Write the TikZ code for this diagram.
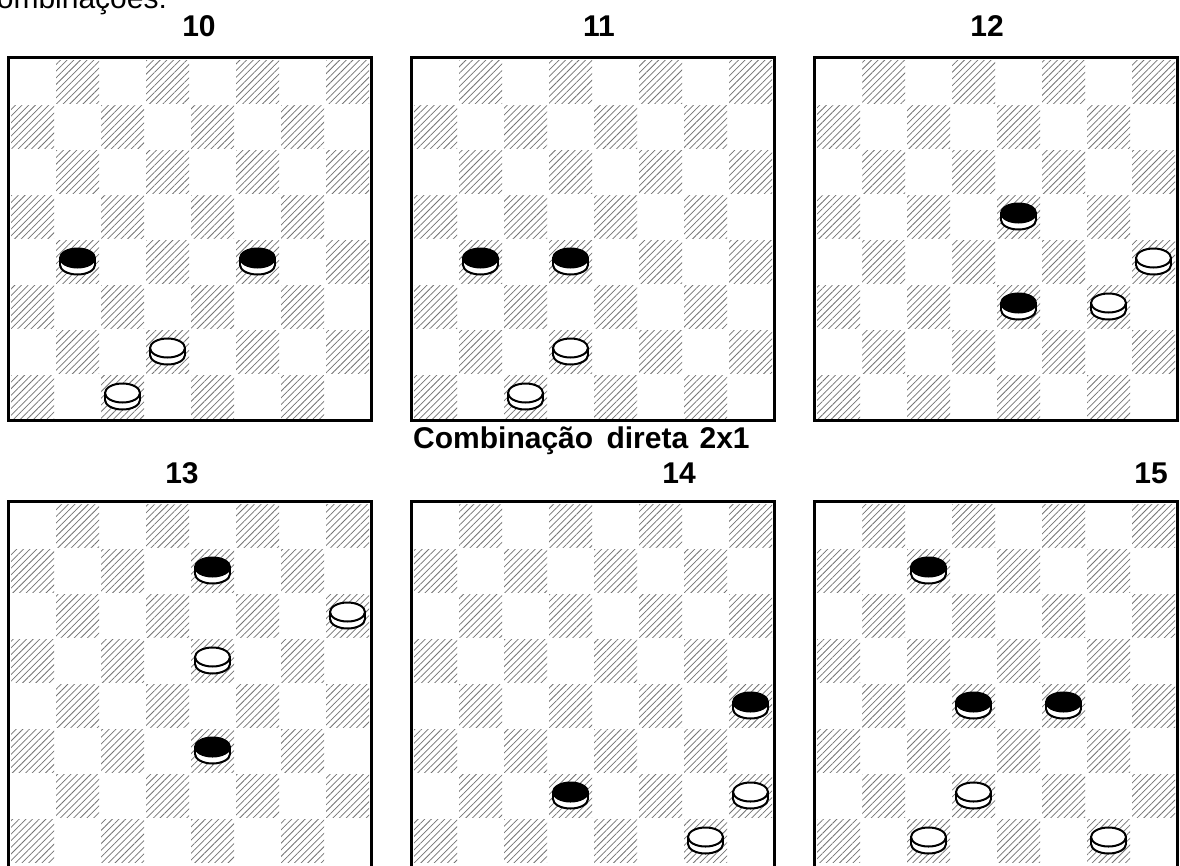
\documentclass[tikz,border=0pt]{standalone}
\usepackage{fontspec}
\setmainfont{Liberation Sans}
\usetikzlibrary{patterns.meta}

\tikzset{
  hatchsq/.style={pattern={Lines[angle=45,distance=4.7pt,line width=0.75pt]}, pattern color=black!55},
  boardframe/.style={line width=3pt, draw=black, line join=miter},
  numlabel/.style={font=\bfseries\fontsize{30}{36}\selectfont, inner sep=0pt, anchor=base},
  pieceline/.style={line width=2pt, draw=black},
}

\newcommand{\drawsquares}[2]{%
  \foreach \r in {0,...,7}{%
    \foreach \c in {0,...,7}{%
      \pgfmathtruncatemacro{\odd}{mod(\r+\c,2)}%
      \ifnum\odd=1
        \path[hatchsq] ({#1+45*\c+1},{#2+45*\r+1}) rectangle ++(43,43);
      \fi
    }%
  }%
}
\newcommand{\closedboard}[2]{%
  \drawsquares{#1}{#2}%
  \draw[boardframe] ({#1-1.5},{#2-1.5}) rectangle ({#1+361.5},{#2+361.5});
}
\newcommand{\openboard}[2]{%
  \drawsquares{#1}{#2}%
  \draw[boardframe] ({#1-1.5},870) -- ({#1-1.5},{#2-1.5}) -- ({#1+361.5},{#2-1.5}) -- ({#1+361.5},870);
}
\newcommand{\checker}[3]{%
  \begin{scope}[shift={({#2},{#3})}]
    \draw[pieceline, fill=white] (0,3.5) ellipse [x radius=17.5, y radius=9.5];
    \fill[white] (-17.5,-3.5) rectangle (17.5,3.5);
    \draw[pieceline] (-17.5,-3.5) -- (-17.5,3.5) (17.5,-3.5) -- (17.5,3.5);
    \draw[pieceline, fill=#1] (0,-3.5) ellipse [x radius=17.5, y radius=9.5];
  \end{scope}}
\newcommand{\onboard}[5]{\checker{#5}{#1+45*#3+22.5}{#2+45*#4+22.5}}

\begin{document}
\begin{tikzpicture}[x=1pt,y=-1pt]
\useasboundingbox (0,0) rectangle (1180,865);
\fill[white] (0,0) rectangle (1180,865);
\clip (0,0) rectangle (1180,865);

\node[font=\fontsize{30}{36}\selectfont, inner sep=0pt, anchor=base west] (title) at (-25,8) {Combinações:};

% board 10
\closedboard{10}{59}
\onboard{10}{59}{1}{4}{black}
\onboard{10}{59}{5}{4}{black}
\onboard{10}{59}{3}{6}{white}
\onboard{10}{59}{2}{7}{white}
% board 11
\closedboard{413}{59}
\onboard{413}{59}{1}{4}{black}
\onboard{413}{59}{3}{4}{black}
\onboard{413}{59}{3}{6}{white}
\onboard{413}{59}{2}{7}{white}
% board 12
\closedboard{816}{59}
\onboard{816}{59}{4}{3}{black}
\onboard{816}{59}{4}{5}{black}
\onboard{816}{59}{7}{4}{white}
\onboard{816}{59}{6}{5}{white}
% board 13
\openboard{10}{503}
\onboard{10}{503}{4}{1}{black}
\onboard{10}{503}{7}{2}{white}
\onboard{10}{503}{4}{3}{white}
\onboard{10}{503}{4}{5}{black}
% board 14
\openboard{413}{503}
\onboard{413}{503}{7}{4}{black}
\onboard{413}{503}{3}{6}{black}
\onboard{413}{503}{7}{6}{white}
\onboard{413}{503}{6}{7}{white}
% board 15
\openboard{816}{503}
\onboard{816}{503}{2}{1}{black}
\onboard{816}{503}{3}{4}{black}
\onboard{816}{503}{5}{4}{black}
\onboard{816}{503}{3}{6}{white}
\onboard{816}{503}{2}{7}{white}
\onboard{816}{503}{6}{7}{white}

\node[numlabel] (l10) at (199,36) {10};
\node[numlabel] (l11) at (599,36) {11};
\node[numlabel] (l12) at (987,36) {12};
\node[numlabel] (l13) at (182,483) {13};
\node[numlabel] (l14) at (679,483) {14};
\node[numlabel] (l15) at (1151,483) {15};
\node[numlabel, anchor=base west] (cap) at (413,448) {Combinação \hspace{5pt}direta \hspace{3pt}2x1};
\end{tikzpicture}
\end{document}
